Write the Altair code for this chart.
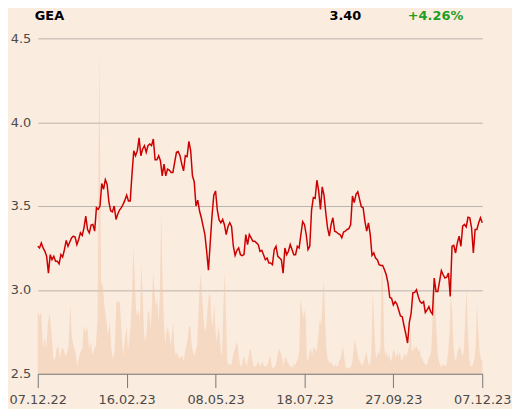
import altair as alt
import pandas as pd

# ---------------- data ----------------
title_name = "GEA"
last_price = "3.40"
change_pct = "+4.26%"

tick_labels = ["07.12.22", "16.02.23", "08.05.23", "18.07.23", "27.09.23", "07.12.23"]
y_ticks = [2.5, 3.0, 3.5, 4.0, 4.5]

# daily closing prices (trading-day order)
price_p1 = [3.26, 3.25, 3.28, 3.25, 3.23, 3.20, 3.10, 3.21, 3.18, 3.20, 3.17, 3.17, 3.155, 3.21, 3.196,
            3.24, 3.295, 3.26, 3.285, 3.31, 3.32, 3.315, 3.27, 3.30, 3.34, 3.325, 3.37, 3.44, 3.36, 3.34,
            3.386, 3.39, 3.35, 3.49, 3.48, 3.50, 3.634, 3.60, 3.657, 3.63, 3.525, 3.472, 3.465, 3.50, 3.42,
            3.453, 3.476, 3.49, 3.51, 3.535]
price_p2 = [3.565, 3.53, 3.53, 3.69, 3.83, 3.80, 3.83, 3.906, 3.80, 3.84, 3.86, 3.82, 3.86, 3.87, 3.86,
            3.90, 3.776, 3.776, 3.80, 3.77, 3.68, 3.75, 3.68, 3.72, 3.715, 3.70, 3.70, 3.76, 3.82, 3.825,
            3.80, 3.75, 3.71, 3.80, 3.795, 3.886, 3.83, 3.68, 3.645, 3.50, 3.535, 3.47, 3.43, 3.38, 3.33,
            3.23, 3.117, 3.28, 3.44, 3.565]
price_p3 = [3.59, 3.476, 3.417, 3.40, 3.42, 3.388, 3.33, 3.378, 3.40, 3.378, 3.26, 3.205, 3.236, 3.25, 3.21,
            3.204, 3.21, 3.33, 3.27, 3.33, 3.31, 3.29, 3.29, 3.28, 3.27, 3.23, 3.236, 3.21, 3.18, 3.19,
            3.16, 3.16, 3.15, 3.24, 3.26, 3.20, 3.19, 3.18, 3.10, 3.25, 3.21, 3.23, 3.27, 3.24, 3.21,
            3.21, 3.26, 3.25, 3.33]
price_p4 = [3.407, 3.39, 3.33, 3.24, 3.26, 3.476, 3.55, 3.545, 3.654, 3.59, 3.48, 3.614, 3.565, 3.46, 3.37,
            3.32, 3.39, 3.43, 3.35, 3.345, 3.335, 3.33, 3.31, 3.345, 3.35, 3.36, 3.365, 3.39, 3.56, 3.52,
            3.57, 3.585, 3.54, 3.496, 3.49, 3.41, 3.35, 3.40, 3.33, 3.205, 3.22, 3.19, 3.18, 3.15, 3.145,
            3.145, 3.12, 3.09, 3.04, 2.954, 2.95]
price_p5 = [2.91, 2.93, 2.915, 2.88, 2.845, 2.84, 2.786, 2.737, 2.683, 2.806, 2.86, 2.983, 2.985, 3.00, 2.96,
            2.93, 2.92, 2.93, 2.865, 2.88, 2.90, 2.87, 2.855, 3.07, 2.99, 2.99, 3.05, 3.115, 3.09, 3.07,
            3.075, 3.10, 2.96, 3.26, 3.265, 3.22, 3.28, 3.32, 3.26, 3.38, 3.39, 3.375, 3.433, 3.43, 3.37,
            3.22, 3.36, 3.36, 3.40, 3.43, 3.40]

# trading volume (relative units), sampled evenly within each fifth of the year
vol_b1 = [63, 58, 62, 25, 37, 25, 52, 60, 42, 17, 13, 25, 28, 15, 25, 26, 18, 20, 28, 70, 35, 28, 22, 8,
          15, 22, 25, 48, 42, 47, 25, 32, 18, 25, 28, 55, 327, 92, 90, 68, 55, 38, 52, 25, 15, 22, 72, 73,
          72, 42, 17, 35]
vol_b2 = [47, 22, 35, 48, 75, 128, 98, 65, 58, 65, 52, 110, 82, 42, 32, 42, 63, 62, 45, 68, 102, 82, 68,
          75, 52, 78, 163, 95, 55, 28, 42, 47, 40, 28, 38, 52, 25, 18, 22, 17, 15, 18, 17, 12, 22, 28, 35,
          48, 47, 28, 22, 18, 22, 28, 55, 88, 100, 75, 55, 42, 48, 65, 80, 78, 55, 48, 72]
vol_b3 = [42, 32, 48, 42, 22, 18, 68, 103, 55, 12, 8, 10, 8, 15, 22, 25, 32, 28, 15, 8, 7, 15, 17, 10, 8,
          15, 23, 25, 15, 8, 7, 8, 10, 12, 7, 10, 12, 8, 7, 8, 10, 15, 18, 7, 5, 7, 8, 15, 22, 25, 20, 15,
          8, 15, 17, 12, 10, 7, 8, 5, 10, 8, 12, 15, 22, 75, 68, 55]
vol_b4 = [65, 55, 12, 15, 22, 25, 18, 27, 25, 22, 28, 42, 55, 48, 72, 95, 55, 25, 15, 12, 10, 12, 8, 7, 10,
          7, 8, 13, 15, 22, 27, 15, 7, 5, 6, 5, 7, 10, 22, 35, 28, 22, 15, 12, 10, 8, 12, 17, 22, 15, 8, 10,
          22, 83, 55, 22, 15, 22, 18, 28, 115, 88, 25, 18, 22, 15, 20, 12, 15]
vol_b5 = [25, 22, 15, 22, 17, 22, 13, 15, 18, 20, 17, 22, 28, 47, 25, 22, 28, 25, 28, 22, 25, 17, 15, 12,
          10, 8, 10, 15, 18, 22, 55, 102, 68, 42, 18, 12, 8, 7, 10, 8, 7, 12, 22, 42, 82, 62, 28, 15, 12, 22,
          25, 28, 22, 17, 25, 55, 87, 42, 15, 8, 7, 10, 15, 28, 70, 42, 22, 15, 13]

# ---------------- tables ----------------
price = price_p1 + price_p2 + price_p3 + price_p4 + price_p5
n_days = len(price) - 1
price_df = pd.DataFrame({"day": list(range(len(price))), "price": price})

vol_blocks = [vol_b1, vol_b2, vol_b3, vol_b4, vol_b5]
block_len = n_days / len(vol_blocks)
rows = []
for k, block in enumerate(vol_blocks):
    n = len(block)
    denom = n - 1 if k == len(vol_blocks) - 1 else n
    for j, v in enumerate(block):
        rows.append({"day": k * block_len + j * block_len / denom, "volume": v})
vol_df = pd.DataFrame(rows)

tick_vals = [i * n_days / (len(tick_labels) - 1) for i in range(len(tick_labels))]
label_expr = "[" + ",".join("'" + t + "'" for t in tick_labels) + "][round(datum.value / %f)]" % (
    n_days / (len(tick_labels) - 1))

FONT = "DejaVu Sans"
LABEL = "#4a4a4a"

x_enc = alt.X(
    "day:Q",
    scale=alt.Scale(domain=[0, n_days], nice=False, zero=False),
    axis=alt.Axis(
        values=tick_vals, labelExpr=label_expr, title=None, grid=False,
        domain=True, domainColor="#777777", tickColor="#777777", tickSize=14,
        labelPadding=6, labelFont=FONT, labelFontSize=13, labelColor=LABEL,
        labelFlush=False, labelOverlap=False,
    ),
)

volume = alt.Chart(vol_df).mark_area(color="#f1c6a6", opacity=0.5, interpolate="linear").encode(
    x=x_enc,
    y=alt.Y("volume:Q", scale=alt.Scale(domain=[0, 338]), axis=None),
)

line = alt.Chart(price_df).mark_line(color="#cc0000", strokeWidth=1.5).encode(
    x=x_enc,
    y=alt.Y(
        "price:Q",
        scale=alt.Scale(domain=[2.5, 4.5], nice=False, zero=False),
        axis=alt.Axis(
            values=y_ticks, format=".1f", title=None, grid=True, gridColor="#b9b3ad",
            gridWidth=1, domain=False, ticks=False, labelPadding=7, labelFont=FONT,
            labelFontSize=13, labelColor=LABEL,
        ),
    ),
)

hdr_name = alt.Chart(pd.DataFrame({"t": [title_name]})).mark_text(
    align="left", baseline="middle", font=FONT, fontSize=13, fontWeight="bold", color="#000000"
).encode(text="t:N", x=alt.value(-3), y=alt.value(-23))

hdr_price = alt.Chart(pd.DataFrame({"t": [last_price]})).mark_text(
    align="left", baseline="middle", font=FONT, fontSize=13, fontWeight="bold", color="#000000"
).encode(text="t:N", x=alt.value(294), y=alt.value(-23))

hdr_change = alt.Chart(pd.DataFrame({"t": [change_pct]})).mark_text(
    align="left", baseline="middle", font=FONT, fontSize=13, fontWeight="bold", color="#1f9e1f"
).encode(text="t:N", x=alt.value(373), y=alt.value(-23))

chart = alt.layer(volume, line, hdr_name, hdr_price, hdr_change).resolve_scale(
    y="independent"
).properties(
    width=448, height=338,
    padding={"left": 30, "top": 29, "right": 30, "bottom": 34},
    autosize=alt.AutoSizeParams(type="none"),
    background="#fbece0",
).configure_view(stroke=None)

chart.save("out.html", embed_options={"renderer": "svg", "actions": False})
